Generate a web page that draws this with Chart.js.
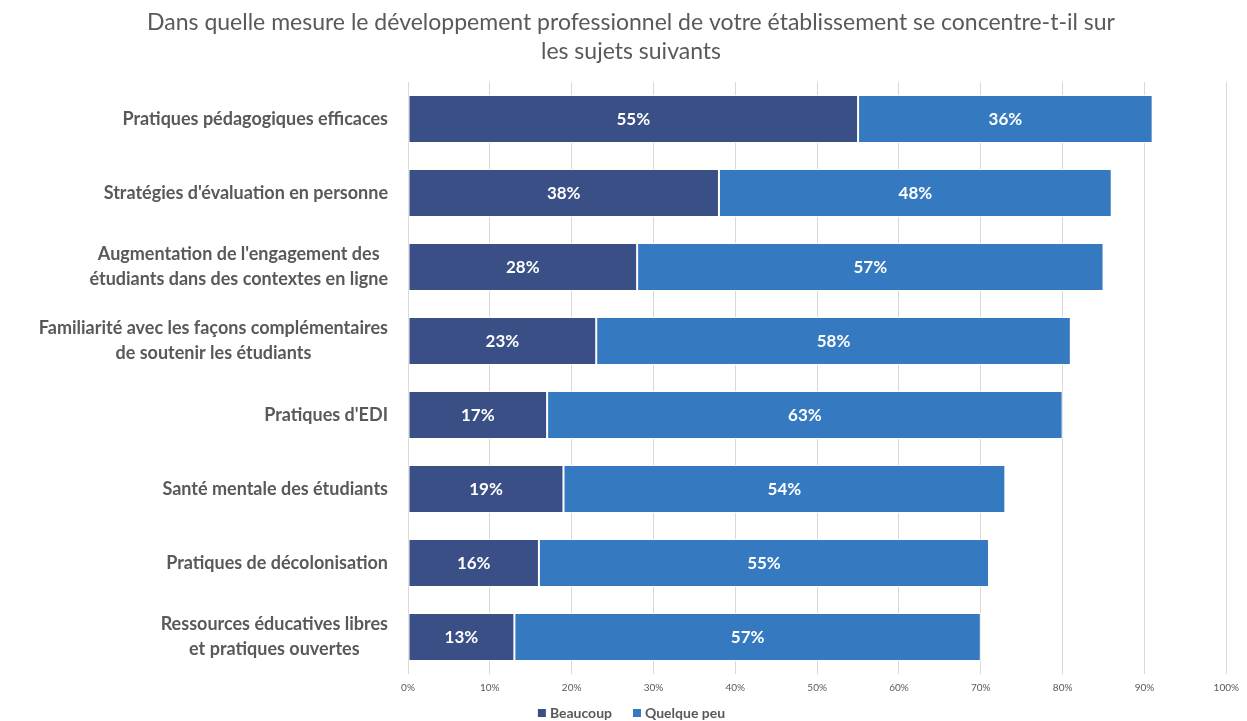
<!DOCTYPE html>
<html lang="fr">
<head>
<meta charset="utf-8">
<script src="https://cdn.jsdelivr.net/npm/chart.js@4.4.1/dist/chart.umd.min.js"></script>
<style>
  html, body { margin: 0; padding: 0; background: #ffffff; }
  #wrap { width: 1247px; height: 721px; position: relative; }
</style>
</head>
<body>
<div id="wrap"><canvas id="chart"></canvas></div>
<script>
// Sujets (chaque entrée peut être sur plusieurs lignes)
const categories = [
  ["Pratiques pédagogiques efficaces"],
  ["Stratégies d'évaluation en personne"],
  ["Augmentation de l'engagement des", "étudiants dans des contextes en ligne"],
  ["Familiarité avec les façons complémentaires", "de soutenir les étudiants"],
  ["Pratiques d'EDI"],
  ["Santé mentale des étudiants"],
  ["Pratiques de décolonisation"],
  ["Ressources éducatives libres", "et pratiques ouvertes"]
];
const beaucoup = [55, 38, 28, 23, 17, 19, 16, 13];
const quelquePeu = [36, 48, 57, 58, 63, 54, 55, 57];
const xTicks = [0, 10, 20, 30, 40, 50, 60, 70, 80, 90, 100];
const titleLines = [
  "Dans quelle mesure le développement professionnel de votre établissement se concentre-t-il sur",
  "les sujets suivants"
];

const FONT = "Lato, 'Open Sans', 'DejaVu Sans', sans-serif";
const GREY = "#595959";

// Étiquettes de valeur au centre de chaque segment
const barLabels = {
  id: "barLabels",
  afterDatasetsDraw(chart) {
    const ctx = chart.ctx;
    ctx.save();
    ctx.fillStyle = "#ffffff";
    ctx.font = "bold 17px " + FONT;
    ctx.textAlign = "center";
    ctx.textBaseline = "middle";
    chart.data.datasets.forEach((ds, i) => {
      chart.getDatasetMeta(i).data.forEach((bar, j) => {
        const p = bar.getProps(["x", "base", "y"], true);
        ctx.fillText(ds.data[j] + "%", (p.x + p.base) / 2, p.y + 1);
      });
    });
    ctx.restore();
  }
};

// Libellés de catégories : bloc aligné à droite, lignes centrées dans le bloc
const categoryLabels = {
  id: "categoryLabels",
  afterDraw(chart) {
    const ctx = chart.ctx;
    const y = chart.scales.y;
    const right = chart.chartArea.left - 20;
    const lh = 25;
    ctx.save();
    ctx.fillStyle = GREY;
    ctx.font = "bold 18px " + FONT;
    ctx.textBaseline = "middle";
    ctx.textAlign = "center";
    categories.forEach((lines, i) => {
      const cy = y.getPixelForTick(i);
      const w = Math.max(...lines.map(l => ctx.measureText(l).width));
      const cx = right - w / 2;
      const y0 = cy - (lines.length - 1) * lh / 2;
      lines.forEach((l, k) => ctx.fillText(l, cx, y0 + k * lh));
    });
    ctx.restore();
  }
};

// Légende en bas, centrée sous le graphique
const bottomLegend = {
  id: "bottomLegend",
  afterDraw(chart) {
    const ctx = chart.ctx;
    const box = 8, gapText = 4, gapItem = 21;
    ctx.save();
    ctx.font = "bold 14px " + FONT;
    ctx.textBaseline = "middle";
    ctx.textAlign = "left";
    const items = chart.data.datasets.map(ds => ({
      text: ds.label, color: ds.backgroundColor,
      w: box + gapText + ctx.measureText(ds.label).width
    }));
    const total = items.reduce((s, it) => s + it.w, 0) + gapItem * (items.length - 1);
    let x = chart.width / 2 + 8 - total / 2;
    const y = chart.height - 8;
    items.forEach(it => {
      ctx.fillStyle = it.color;
      ctx.fillRect(x, y - box / 2, box, box);
      ctx.fillStyle = GREY;
      ctx.fillText(it.text, x + box + gapText, y);
      x += it.w + gapItem;
    });
    ctx.restore();
  }
};

new Chart(document.getElementById("chart"), {
  type: "bar",
  data: {
    labels: categories,
    datasets: [
      {
        label: "Beaucoup",
        data: beaucoup,
        backgroundColor: "#3A4F86",
        borderColor: "rgba(255,255,255,0.85)",
        borderWidth: 1,
        borderSkipped: false,
        barPercentage: 0.65,
        categoryPercentage: 1
      },
      {
        label: "Quelque peu",
        data: quelquePeu,
        backgroundColor: "#3579C0",
        borderColor: "rgba(255,255,255,0.85)",
        borderWidth: 1,
        borderSkipped: false,
        barPercentage: 0.65,
        categoryPercentage: 1
      }
    ]
  },
  options: {
    indexAxis: "y",
    responsive: true,
    maintainAspectRatio: false,
    animation: false,
    layout: { padding: { left: 34, right: 19, top: 8, bottom: 19 } },
    scales: {
      x: {
        stacked: true,
        min: 0,
        max: 100,
        afterBuildTicks(scale) { scale.ticks = xTicks.map(v => ({ value: v })); },
        grid: { color: "#d9d9d9", lineWidth: 1, drawTicks: false },
        border: { display: false },
        ticks: {
          color: GREY,
          font: { family: FONT, size: 10 },
          padding: 8,
          callback: v => v + "%"
        }
      },
      y: {
        stacked: true,
        grid: { display: false },
        border: { display: false },
        ticks: { display: false },
        afterFit(scale) { scale.width = 374; }
      }
    },
    plugins: {
      title: {
        display: true,
        text: titleLines,
        color: GREY,
        font: { family: FONT, size: 23, weight: "normal", lineHeight: 1.26 },
        padding: { top: 0, bottom: 16 }
      },
      legend: { display: false },
      tooltip: { enabled: false }
    }
  },
  plugins: [barLabels, categoryLabels, bottomLegend]
});
</script>
</body>
</html>
